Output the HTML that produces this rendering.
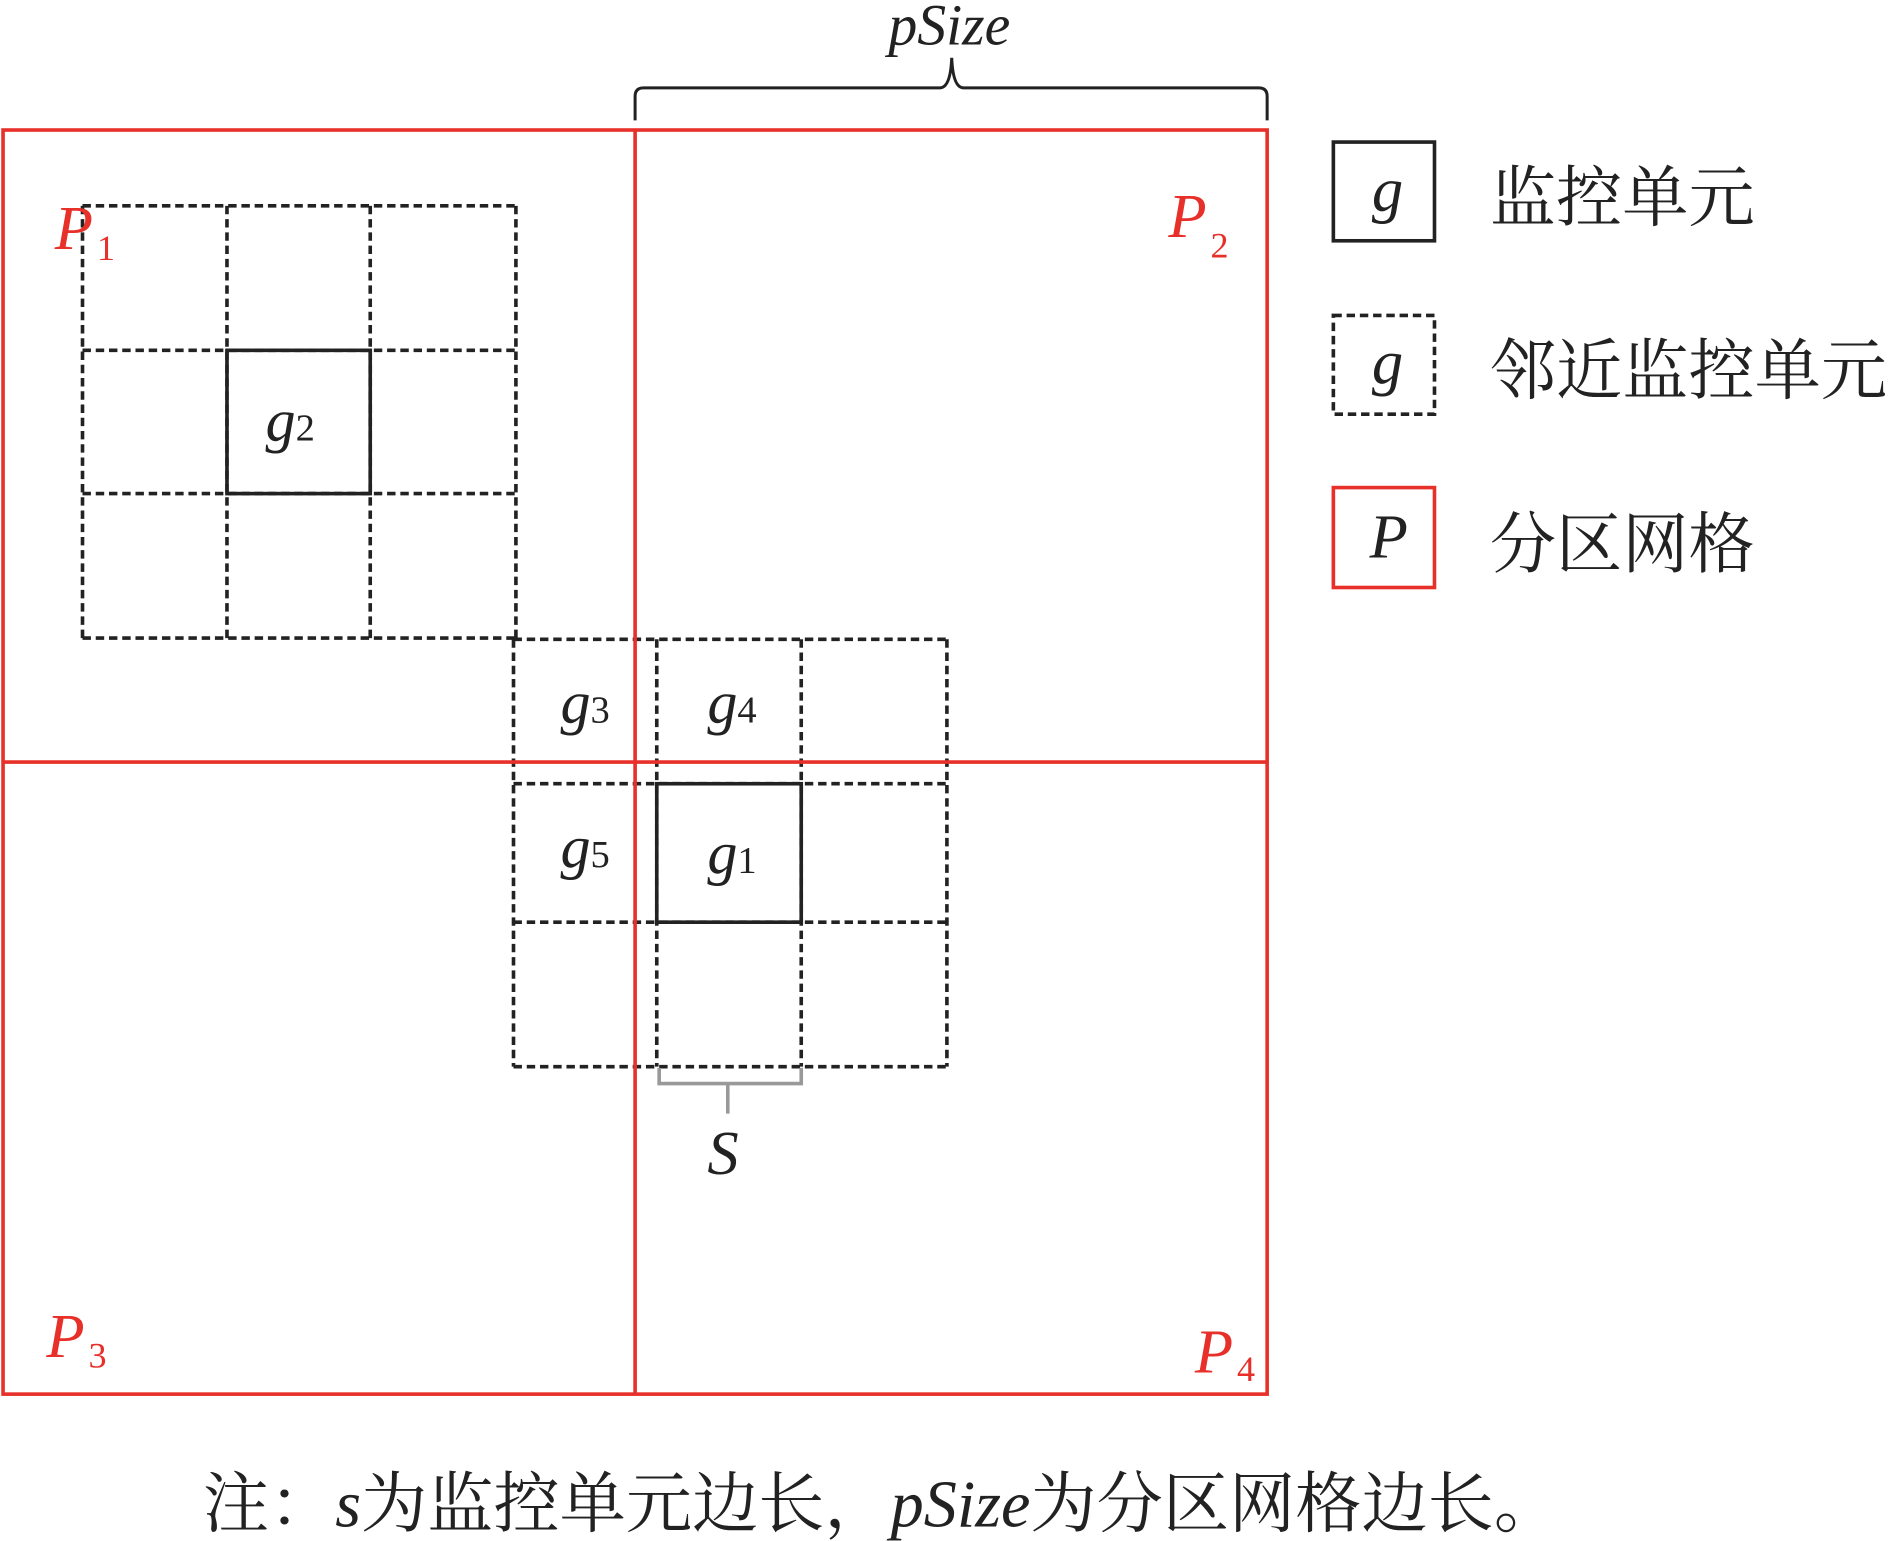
<!DOCTYPE html>
<html><head><meta charset="utf-8"><style>
html,body{margin:0;padding:0;background:#fff;}
svg{display:block;}
</style></head><body>
<svg width="1889" height="1541" viewBox="0 0 1568 1280" xmlns="http://www.w3.org/2000/svg">
<rect width="1568" height="1280" fill="#fff"/>
<!-- pSize brace -->
<path d="M527,100 L527,80 Q527,73 534,73 L780,73 Q789,73 790,48 Q791,73 800,73 L1045,73 Q1052,73 1052,80 L1052,100" fill="none" stroke="#222" stroke-width="2.5"/>
<text x="788" y="37" style="font-family:'Liberation Serif',serif;font-style:italic" font-size="48" text-anchor="middle" fill="#222">pSize</text>
<!-- dashed grids -->
<g stroke="#222" stroke-width="3" stroke-dasharray="7,4" fill="none">
<path d="M68,171H428M68,291H428M68,410H428M68,530H428M68,171V530M188,171V530M307,171V530M428,171V530"/>
<path d="M426,531H786M426,651H786M426,766H786M426,886H786M426,531V886M545,531V886M665,531V886M786,531V886"/>
</g>
<!-- red partitions -->
<g stroke="#e8302a" stroke-width="3" fill="none">
<rect x="2" y="108" width="1050" height="1050"/>
<path d="M527,108V1158M2,633H1052"/>
</g>
<!-- solid cells -->
<g stroke="#222" stroke-width="3" fill="none">
<rect x="188" y="291" width="119" height="119"/>
<rect x="545" y="651" width="120" height="115"/>
</g>
<!-- s bracket -->
<path d="M547,887V900H665V887M604,900V925" fill="none" stroke="#999" stroke-width="3"/>
<text x="600" y="975" style="font-family:'Liberation Serif',serif;font-style:italic" font-size="52" text-anchor="middle" fill="#222">S</text>
<!-- g labels -->
<g font-size="50" fill="#222" style="font-family:'Liberation Serif',serif">
<text x="220" y="366"><tspan style="font-style:italic">g</tspan><tspan font-size="32" style="font-style:normal">2</tspan></text>
<text x="465" y="600"><tspan style="font-style:italic">g</tspan><tspan font-size="32" style="font-style:normal">3</tspan></text>
<text x="587" y="600"><tspan style="font-style:italic">g</tspan><tspan font-size="32" style="font-style:normal">4</tspan></text>
<text x="465" y="720"><tspan style="font-style:italic">g</tspan><tspan font-size="32" style="font-style:normal">5</tspan></text>
<text x="587" y="725"><tspan style="font-style:italic">g</tspan><tspan font-size="32" style="font-style:normal">1</tspan></text>
</g>
<!-- P labels -->
<g fill="#e8302a" style="font-family:'Liberation Serif',serif">
<text x="45" y="207" font-size="52" style="font-style:italic">P</text><text x="80" y="216" font-size="30">1</text>
<text x="970" y="197" font-size="52" style="font-style:italic">P</text><text x="1005" y="214" font-size="30">2</text>
<text x="38" y="1127" font-size="52" style="font-style:italic">P</text><text x="73" y="1136" font-size="30">3</text>
<text x="992" y="1140" font-size="52" style="font-style:italic">P</text><text x="1027" y="1147" font-size="30">4</text>
</g>
<!-- legend -->
<rect x="1107" y="118" width="84" height="82" fill="none" stroke="#222" stroke-width="3"/>
<rect x="1107" y="262" width="84" height="82" fill="none" stroke="#222" stroke-width="3" stroke-dasharray="7,4"/>
<rect x="1107" y="405" width="84" height="83" fill="none" stroke="#e8302a" stroke-width="3"/>
<g style="font-family:'Liberation Serif',serif;font-style:italic" font-size="52" text-anchor="middle" fill="#222">
<text x="1152" y="175">g</text>
<text x="1152" y="318">g</text>
<text x="1153" y="463" >P</text>
</g>
<g style="font-family:'Noto Serif CJK SC','Noto Sans CJK SC',serif" font-size="55" fill="#222">
<text x="1237" y="183">监控单元</text>
<text x="1237" y="327">邻近监控单元</text>
<text x="1237" y="471">分区网格</text>
</g>
<!-- caption -->
<text x="168" y="1268" style="font-family:'Noto Serif CJK SC','Noto Sans CJK SC',serif" font-size="55" fill="#222">注：<tspan style="font-family:'Liberation Serif',serif;font-style:italic">s</tspan>为监控单元边长，<tspan style="font-family:'Liberation Serif',serif;font-style:italic">pSize</tspan>为分区网格边长。</text>
</svg>
</body></html>
